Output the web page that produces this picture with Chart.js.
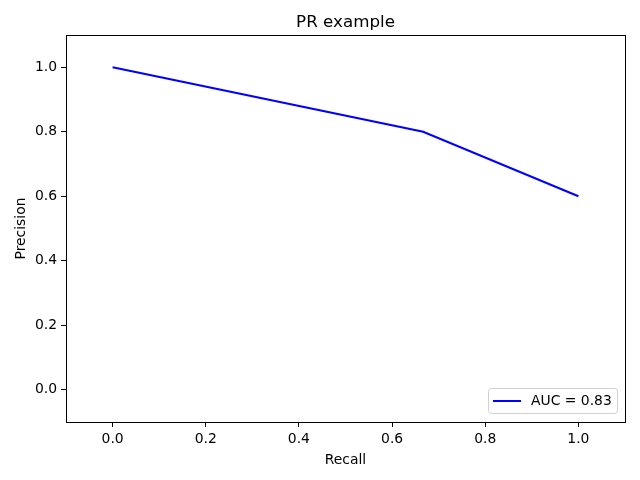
<!DOCTYPE html>
<html>
<head>
<meta charset="utf-8">
<script src="https://cdn.jsdelivr.net/npm/chart.js@4/dist/chart.umd.min.js"></script>
<style>
  body { margin: 0; background: #fff; }
  #wrap { width: 640px; height: 480px; }
</style>
</head>
<body>
<div id="wrap"><canvas id="myChart" width="640" height="480"></canvas></div>
<script>
const recall = [0, 2 / 3, 1];
const precision = [1.0, 0.8, 0.6];
const seriesLabel = 'AUC = 0.83';
const xTicks = [0, 0.2, 0.4, 0.6, 0.8, 1.0];
const yTicks = [0, 0.2, 0.4, 0.6, 0.8, 1.0];

const font = 'DejaVu Sans';

// frame, title and legend drawn like matplotlib
const extras = {
    id: 'extras',
    afterDraw(chart) {
        const c = chart.ctx;
        const a = chart.chartArea;
        c.save();
        c.strokeStyle = '#000';
        c.lineWidth = 1;
        c.strokeRect(Math.round(a.left) + 0.5, Math.round(a.top) + 0.5,
            Math.round(a.right - a.left), Math.round(a.bottom - a.top));

        c.fillStyle = '#000';
        c.font = '16.7px "' + font + '"';
        c.textAlign = 'center';
        c.textBaseline = 'alphabetic';
        c.fillText('PR example', (a.left + a.right) / 2, 27);

        // legend
        const bx = 488.5, by = 388.5, bw = 129, bh = 25;
        c.fillStyle = 'rgba(255,255,255,0.8)';
        c.strokeStyle = '#d0d0d0';
        c.beginPath();
        c.roundRect(bx, by, bw, bh, 3);
        c.fill();
        c.stroke();
        c.strokeStyle = '#0000ff';
        c.lineWidth = 2;
        c.beginPath();
        c.moveTo(493, by + 12.5);
        c.lineTo(521, by + 12.5);
        c.stroke();
        c.fillStyle = '#000';
        c.font = '13.9px "' + font + '"';
        c.textAlign = 'left';
        c.textBaseline = 'middle';
        c.fillText(chart.data.datasets[0].label, 531, by + 13);
        c.restore();
    }
};

new Chart(document.getElementById('myChart'), {
    type: 'line',
    data: {
        datasets: [{
            label: seriesLabel,
            data: recall.map((r, i) => ({ x: r, y: precision[i] })),
            borderColor: '#0000ff',
            borderWidth: 2,
            pointRadius: 0,
            fill: false,
            tension: 0
        }]
    },
    options: {
        responsive: false,
        animation: false,
        layout: { padding: { left: 0, right: 15, top: 35, bottom: 0 } },
        plugins: {
            legend: { display: false },
            title: { display: false },
            tooltip: { enabled: false }
        },
        scales: {
            x: {
                type: 'linear',
                min: -0.1,
                max: 1.1,
                afterBuildTicks: s => { s.ticks = xTicks.map(v => ({ value: v })); },
                afterFit: s => { s.height = 58; },
                grid: { drawOnChartArea: false, tickLength: 5, tickColor: '#000' },
                border: { display: false },
                ticks: {
                    color: '#000',
                    padding: 4,
                    maxRotation: 0,
                    font: { family: font, size: 13.9 },
                    callback: v => Number(v).toFixed(1)
                },
                title: {
                    display: true,
                    text: 'Recall',
                    color: '#000',
                    font: { family: font, size: 13.9 },
                    padding: { top: 0, bottom: 11 }
                }
            },
            y: {
                type: 'linear',
                min: -0.1,
                max: 1.1,
                afterBuildTicks: s => { s.ticks = yTicks.map(v => ({ value: v })); },
                afterFit: s => { s.width = 66; },
                grid: { drawOnChartArea: false, tickLength: 5, tickColor: '#000' },
                border: { display: false },
                ticks: {
                    color: '#000',
                    padding: 4,
                    font: { family: font, size: 13.9 },
                    callback: v => Number(v).toFixed(1)
                },
                title: {
                    display: true,
                    text: 'Precision',
                    color: '#000',
                    font: { family: font, size: 13.9 },
                    padding: { top: 13, bottom: 0 }
                }
            }
        }
    },
    plugins: [extras]
});
</script>
</body>
</html>
